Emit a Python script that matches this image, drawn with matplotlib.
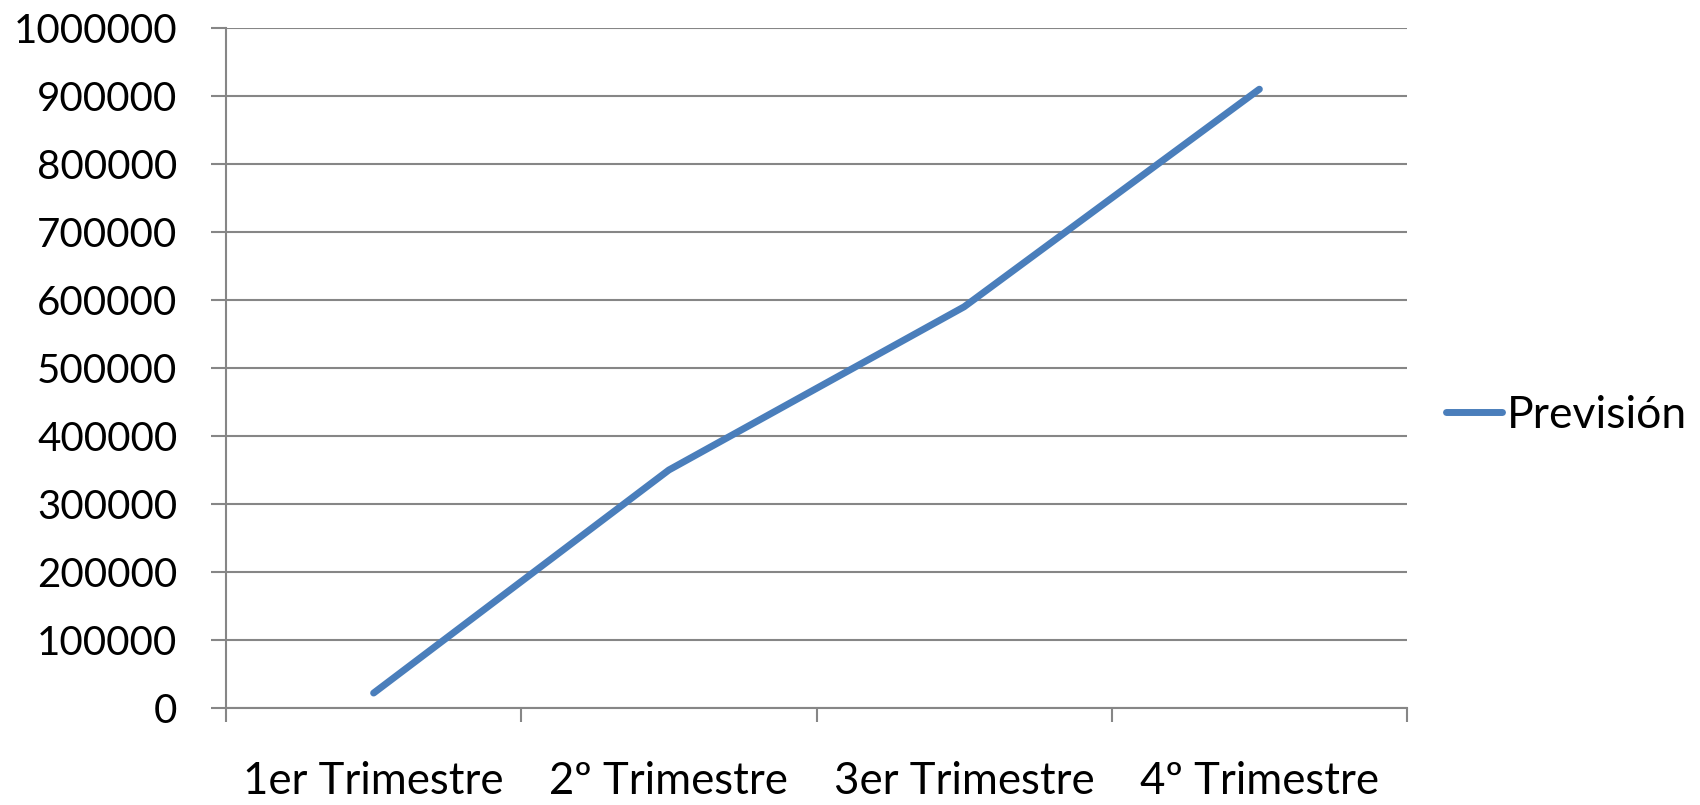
import numpy as np
import matplotlib
matplotlib.use("Agg")
import matplotlib.pyplot as plt

# chart data
categories = ['1er Trimestre', '2º Trimestre', '3er Trimestre', '4º Trimestre']
prevision = [22000, 350000, 590000, 910000]
y_ticks = list(range(0, 1000001, 100000))

plt.rcParams['font.family'] = ['Lato', 'DejaVu Sans']

fig = plt.figure(figsize=(17, 8.05), dpi=100)
ax = fig.add_axes([226 / 1700, 1 - 708 / 805, (1407 - 226) / 1700, (708 - 28) / 805])

x = np.arange(len(categories)) + 0.5
ax.plot(x, prevision, color='#4A7EBB', linewidth=5, solid_capstyle='round',
        solid_joinstyle='round', label='Previsión', zorder=3)

ax.set_xlim(0, len(categories))
ax.set_ylim(0, 1000000)
ax.set_yticks(y_ticks)
ax.set_yticklabels([str(v) for v in y_ticks])

# ticks at category boundaries, labels at centres
ax.set_xticks(np.arange(len(categories) + 1))
ax.set_xticklabels([''] * (len(categories) + 1))
ax.set_xticks(x, minor=True)
ax.set_xticklabels(categories, minor=True)

grid_color = '#868686'
ax.yaxis.grid(True, color=grid_color, linewidth=1.5)
ax.set_axisbelow(True)
for s in ['top', 'right']:
    ax.spines[s].set_visible(False)
for s in ['left', 'bottom']:
    ax.spines[s].set_color(grid_color)
    ax.spines[s].set_linewidth(1.5)

ax.tick_params(axis='y', which='major', length=11, width=1.5, color=grid_color,
               labelsize=29, pad=24)
ax.tick_params(axis='x', which='major', length=10, width=1.5, color=grid_color)
ax.tick_params(axis='x', which='minor', length=0, labelsize=31.5, pad=38)

fig.legend(loc='center left', bbox_to_anchor=(1446 / 1700, 1 - 415 / 805),
           frameon=False, fontsize=32, handlelength=1.25, handletextpad=0.12,
           borderpad=0, borderaxespad=0)

fig.savefig('out.png', dpi=100)
